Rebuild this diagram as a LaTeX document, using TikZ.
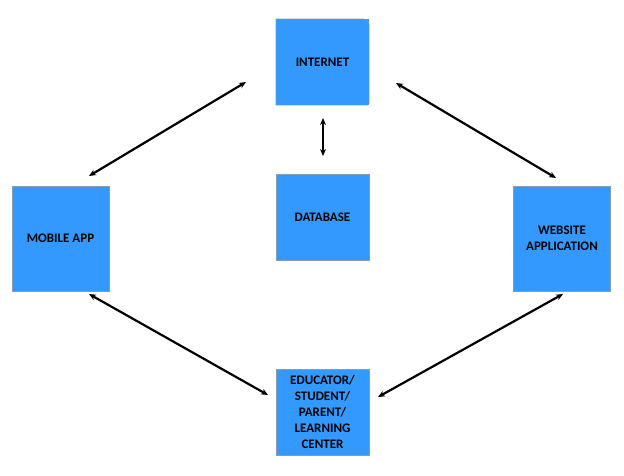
\documentclass[tikz,border=0pt]{standalone}
\usepackage{fontspec}
\setmainfont{Carlito}
\usetikzlibrary{arrows.meta}
\definecolor{boxblue}{HTML}{3399FF}
\definecolor{boxedge}{HTML}{8A9BAE}
\begin{document}
\begin{tikzpicture}[x=1pt,y=-1pt,line width=0.4pt,
  every node/.style={font=\bfseries\fontsize{13}{16}\selectfont,align=center,inner sep=0pt},
  unit/.style={fill=boxblue,draw=boxedge,minimum width=93pt,minimum height=86pt},
  bigunit/.style={unit,minimum width=97pt,minimum height=105pt},
  link/.style={line width=2.2pt,{Stealth[length=7pt,width=6pt]}-{Stealth[length=7pt,width=6pt]}}]
\useasboundingbox (0,0) rectangle (624,475);
% boxes
\node[unit,draw=none] (net) at (322.5,62) {INTERNET};
\node[unit] (db) at (322.5,217) {DATABASE};
\node[bigunit] (mob) at (60.5,238.5) {MOBILE APP};
\node[bigunit] (web) at (562,238.5) {WEBSITE\\APPLICATION};
\node[unit] (user) at (322.5,412) {EDUCATOR/\\STUDENT/\\PARENT/\\LEARNING\\CENTER};
\draw[draw=boxedge] (net.south west) -- (net.north west) [rounded corners=6pt] -- (net.north east)
  [rounded corners=2pt] -- (net.south east) [sharp corners] -- cycle;
% arrow ends
\coordinate (nd1) at (323,118);
\coordinate (nd2) at (323,156);
\coordinate (mn1) at (89,176);
\coordinate (mn2) at (246,82);
\coordinate (nw1) at (396,83);
\coordinate (nw2) at (556,178);
\coordinate (mu1) at (89,294);
\coordinate (mu2) at (268,395);
\coordinate (uw1) at (378,397);
\coordinate (uw2) at (563,294);
\draw[link] (nd1) -- (nd2);
\draw[link] (mn1) -- (mn2);
\draw[link] (nw1) -- (nw2);
\draw[link] (mu1) -- (mu2);
\draw[link] (uw1) -- (uw2);
\end{tikzpicture}
\end{document}
